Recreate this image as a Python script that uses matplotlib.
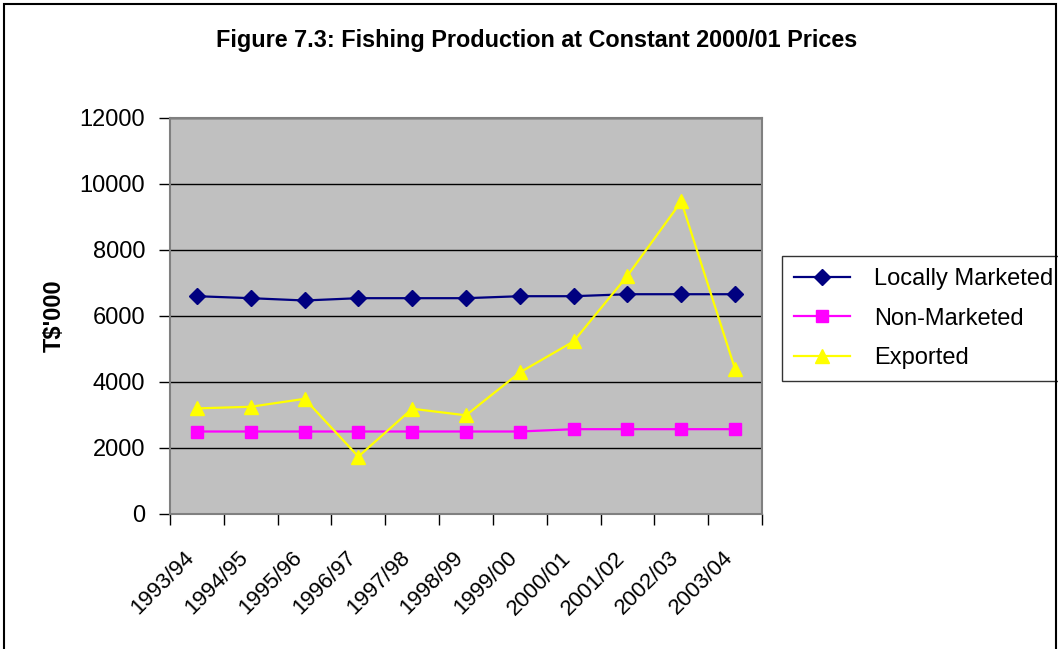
import matplotlib
matplotlib.use("Agg")
import matplotlib.pyplot as plt
from matplotlib.patches import Rectangle
from matplotlib.transforms import ScaledTranslation
import numpy as np

plt.rcParams['font.family'] = ['Liberation Sans', 'DejaVu Sans']

# Fishing production at constant 2000/01 prices (T$'000)
years = ['1993/94', '1994/95', '1995/96', '1996/97', '1997/98', '1998/99',
         '1999/00', '2000/01', '2001/02', '2002/03', '2003/04']
locally_marketed = [6600, 6540, 6470, 6540, 6540, 6540, 6600, 6600, 6660, 6660, 6660]
non_marketed = [2500, 2500, 2500, 2500, 2500, 2500, 2500, 2570, 2570, 2570, 2570]
exported = [3200, 3250, 3490, 1740, 3190, 2990, 4290, 5230, 7220, 9470, 4390]

fig = plt.figure(figsize=(10.58, 6.49), dpi=100)
fig.patch.set_facecolor('white')

# outer chart frame
fig.patches.append(Rectangle((4 / 1058, -0.05), 1052 / 1058, 1.05 - 4 / 649,
                             transform=fig.transFigure, fill=False,
                             edgecolor='black', linewidth=1.5))

ax = fig.add_axes([170 / 1058, 1 - 514 / 649, 592 / 1058, 396 / 649])
ax.set_facecolor('#C0C0C0')

x = np.arange(len(years))
ax.plot(x, locally_marketed, color='#000080', marker='D', markersize=8,
        linewidth=1.6, label='Locally Marketed', zorder=3)
ax.plot(x, non_marketed, color='#FF00FF', marker='s', markersize=8.5,
        linewidth=1.6, label='Non-Marketed', zorder=3)
ax.plot(x, exported, color='#FFFF00', marker='^', markersize=10,
        linewidth=1.6, label='Exported', zorder=3)

ax.set_xlim(-0.5, len(years) - 0.5)
ax.set_ylim(0, 12000)
ax.set_yticks(np.arange(0, 12001, 2000))
ax.yaxis.grid(True, color='black', linewidth=1)
ax.set_axisbelow(True)

for side in ['top', 'right', 'left', 'bottom']:
    ax.spines[side].set_color('#808080')
    ax.spines[side].set_linewidth(1.5)

# category ticks sit between the points
ax.set_xticks(np.arange(-0.5, len(years)), minor=False)
ax.set_xticklabels([])
ax.set_xticks(x, minor=True)
ax.set_xticklabels(years, minor=True, rotation=45, ha='right',
                   rotation_mode='anchor', fontsize=16)
ax.tick_params(axis='x', which='minor', length=0, pad=24)
ax.tick_params(axis='x', which='major', length=8, width=1, direction='out')
ax.tick_params(axis='y', length=8, width=1, direction='out', labelsize=17, pad=10)
shift = ScaledTranslation(-0.13, 0, fig.dpi_scale_trans)
for lbl in ax.get_xticklabels(minor=True):
    lbl.set_transform(lbl.get_transform() + shift)

ax.set_ylabel("T$'000", fontsize=17, fontweight='bold')
ax.yaxis.set_label_coords(-0.176, 0.5)

fig.text(537 / 1058, 1 - 40 / 649, 'Figure 7.3: Fishing Production at Constant 2000/01 Prices',
         ha='center', va='center', fontsize=16.8, fontweight='bold')

leg = ax.legend(loc='upper left', bbox_to_anchor=(782 / 1058, 1 - 256 / 649),
                bbox_transform=fig.transFigure,
                fontsize=17, frameon=True, fancybox=False, borderpad=0.5,
                handlelength=2.4, handletextpad=1.0, labelspacing=0.75,
                borderaxespad=0)
leg.get_frame().set_edgecolor('black')
leg.get_frame().set_linewidth(1)

fig.savefig('out.png', dpi=100, facecolor='white')
